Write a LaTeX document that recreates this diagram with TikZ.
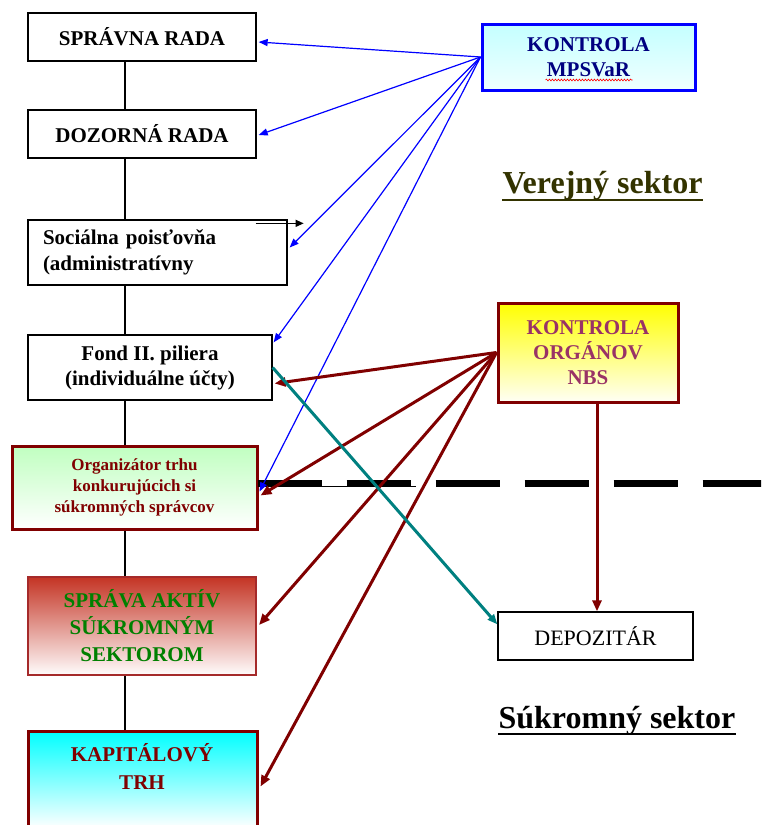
\documentclass[tikz,border=0pt]{standalone}
\usepackage{fontspec}
\setmainfont{Liberation Serif}
\usetikzlibrary{arrows.meta,calc,decorations.pathmorphing}
\definecolor{dred}{HTML}{800000}
\definecolor{teal2}{HTML}{008080}
\definecolor{olive2}{HTML}{333300}
\definecolor{navy2}{HTML}{000080}
\definecolor{plum2}{HTML}{993366}
\definecolor{green2}{HTML}{008000}
\definecolor{red2}{RGB}{196,52,36}
\definecolor{akborder}{HTML}{A52A2A}
\begin{document}
\begin{tikzpicture}[x=1pt,y=-1pt,
  box/.style={draw=black, rectangle, inner sep=0pt, line width=1.3pt,
    font=\fontsize{21}{25}\selectfont\bfseries, align=center},
  txt/.style={inner sep=0pt, font=\fontsize{21}{28}\selectfont\bfseries, align=center},
  spine/.style={draw=black, line width=1.2pt},
  bluearr/.style={draw=blue, line width=1.2pt, -{Triangle[length=9pt,width=7pt]}},
  redarr/.style={draw=dred, line width=3pt, -{Triangle[length=11pt,width=9pt]}},
  tealarr/.style={draw=teal2, line width=3pt, -{Triangle[length=10pt,width=8pt]}},
  blackarr/.style={draw=black, line width=1.2pt, -{Triangle[length=8pt,width=7pt]}},
  sector/.style={inner sep=0pt, font=\fontsize{32}{36}\selectfont\bfseries, anchor=base}
]
\useasboundingbox (0,0) rectangle (761,825);
\clip (0,0) rectangle (761,825);

% left column
\node[box, minimum width=228pt, minimum height=48pt] (spr) at (142,37) {SPRÁVNA RADA};
\node[box, minimum width=228pt, minimum height=48pt] (doz) at (142,134) {DOZORNÁ RADA};
\node[box, text width=229pt, inner xsep=15pt, align=left, minimum height=65pt,
  font=\fontsize{21}{26}\selectfont\bfseries] (soc) at (157.5,252.5)
  {Sociálna poisťovňa\\(administratívny};
\node[box, minimum width=244pt, minimum height=65pt] (fond) at (150,367.5)
  {Fond II. piliera\\(individuálne účty)};
\node[box, draw=dred, line width=3pt, minimum width=245pt, minimum height=83pt,
  top color={rgb,255:red,192;green,255;blue,192}, bottom color=white,
  text=dred, font=\fontsize{17}{21}\selectfont\bfseries] (org) at (134.5,487.5)
  {Organizátor trhu\\konkurujúcich si\\súkromných správcov};
\node[box, draw=akborder, line width=2pt, minimum width=228pt, minimum height=98pt,
  top color=red2, bottom color={rgb,255:red,255;green,252;blue,252},
  text=green2, font=\fontsize{21}{27}\selectfont\bfseries] (akt) at (142,626)
  {SPRÁVA AKTÍV\\SÚKROMNÝM\\SEKTOROM};
\node[box, draw=dred, line width=3pt, minimum width=229pt, minimum height=97pt,
  top color={rgb,255:red,0;green,255;blue,255}, bottom color=white] (kap) at (142.5,779.5) {};
\node[txt, text=dred] (kapt) at (142,766) {KAPITÁLOVÝ\\TRH};

% spine
\coordinate (sp) at (125,0);
\draw[spine] (spr.south -| sp) -- (doz.north -| sp);
\draw[spine] (doz.south -| sp) -- (soc.north -| sp);
\draw[spine] (soc.south -| sp) -- (fond.north -| sp);
\draw[spine] (fond.south -| sp) -- (org.north -| sp);
\draw[spine] (org.south -| sp) -- (akt.north -| sp);
\draw[spine] (akt.south -| sp) -- (kap.north -| sp);

% right column
\node[box, draw=blue, line width=3pt, minimum width=213pt, minimum height=66pt,
  top color={rgb,255:red,196;green,255;blue,255}, bottom color={rgb,255:red,240;green,255;blue,255},
  text=navy2] (mps) at (588.5,57) {KONTROLA\\MPSVaR};
\draw[red, line width=0.6pt, decorate, decoration={snake, amplitude=0.9pt, segment length=3pt}]
  ($(mps.center)+(-43,23)$) -- ($(mps.center)+(44,23)$);
\node[box, draw=dred, line width=3pt, minimum width=180pt, minimum height=99pt,
  top color={rgb,255:red,255;green,255;blue,0}, bottom color={rgb,255:red,255;green,255;blue,245},
  text=plum2] (nbs) at (588,352.5) {KONTROLA\\ORGÁNOV\\NBS};
\node[box, minimum width=195pt, minimum height=48pt,
  font=\fontsize{22}{26}\selectfont] (dep) at (595.5,636) {DEPOZITÁR};

% sector labels
\node[sector, text=olive2] (ver) at (602.5,193) {Verejný sektor};
\draw[olive2, line width=2.5pt] ([yshift=-7pt]ver.base west) -- ([yshift=-7pt]ver.base east);
\node[sector, text=black] (suk) at (617,728) {Súkromný sektor};
\draw[black, line width=2.5pt] ([yshift=-6pt]suk.base west) -- ([yshift=-6pt]suk.base east);

% dashed separator
\coordinate (dashL) at ($(org.east)+(-1,-4.5)$);
\coordinate (dashR) at (765,483);
\draw[black, line width=7pt, dash pattern=on 64pt off 25pt] (dashL) -- (dashR);
\coordinate (thinR) at (416,486);
\draw[black, line width=1pt] (dashL |- thinR) -- (thinR);

% small black arrow at Socialna poistovna
\coordinate (sa1) at ($(soc.north east)+(-32,4)$);
\coordinate (sa2) at ($(soc.north east)+(16,4)$);
\draw[blackarr] (sa1) -- (sa2);

% blue arrows from MPSVaR
\draw[bluearr] (mps.west) -- ($(spr.east)+(2,5)$);
\draw[bluearr] (mps.west) -- ($(doz.east)+(2,1)$);
\draw[bluearr] (mps.west) -- ($(soc.east)+(2,-5)$);
\draw[bluearr] (mps.west) -- ($(fond.north east)+(1,8)$);
\draw[bluearr] (mps.west) -- ($(org.east)+(1,4)$);

% dark red arrows from NBS
\draw[redarr] (nbs.west) -- ($(fond.east)+(2,16)$);
\draw[redarr] (nbs.west) -- ($(org.east)+(2,8)$);
\draw[redarr] (nbs.west) -- ($(akt.east)+(2,-1)$);
\draw[redarr] (nbs.west) -- ($(kap.east)+(2,7)$);
\coordinate (nbsdown) at ($(nbs.south)+(9,0)$);
\draw[redarr] (nbsdown) -- (dep.north -| nbsdown);

% teal arrow Fond -> Depozitar
\draw[tealarr] (fond.east) -- ($(dep.north west)+(0,13)$);
\end{tikzpicture}
\end{document}
